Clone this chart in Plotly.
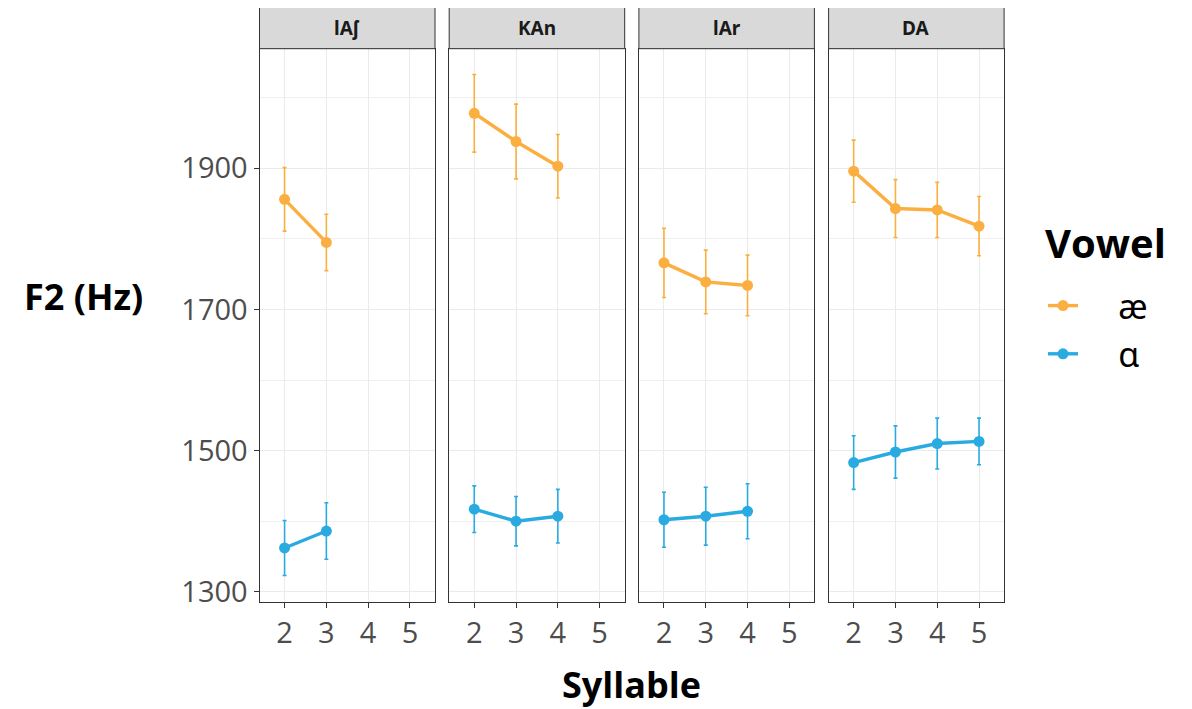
import plotly.graph_objects as go

# The page body adds an 8px margin, so the figure is drawn 8px smaller
# and all layout pixel positions are given in page coordinates minus 8.
OFF = 8
W, H = 1192 - OFF, 709 - OFF

panels = ["lAʃ", "KAn", "lAr", "DA"]
vowels = ["æ", "ɑ"]
colors = {"æ": "#FBAF41", "ɑ": "#29ABE2"}

syllables = {
    "lAʃ": [2, 3],
    "KAn": [2, 3, 4],
    "lAr": [2, 3, 4],
    "DA": [2, 3, 4, 5],
}

f2_ae = {
    "lAʃ": [1856, 1795],
    "KAn": [1978, 1938, 1903],
    "lAr": [1766, 1739, 1734],
    "DA": [1896, 1843, 1841, 1818],
}
err_ae = {
    "lAʃ": [45, 40],
    "KAn": [55, 53, 45],
    "lAr": [49, 45, 43],
    "DA": [44, 41, 39, 42],
}
f2_a = {
    "lAʃ": [1362, 1386],
    "KAn": [1417, 1400, 1407],
    "lAr": [1402, 1407, 1414],
    "DA": [1483, 1498, 1510, 1513],
}
err_a = {
    "lAʃ": [39, 40],
    "KAn": [33, 35, 38],
    "lAr": [39, 41, 39],
    "DA": [38, 37, 36, 33],
}

x_ticks = [2, 3, 4, 5]
y_ticks = [1300, 1500, 1700, 1900]

FONT = "Open Sans"
LFONT = "Noto Sans"

fig = go.Figure()

# pixel layout (page coordinates)
p_left0, p_w, p_step = 259.5, 175.5, 189.7
p_top, p_bot = 48.7, 602.3
strip_top = 6.7

def px_x(v):
    return (v - OFF) / W

def px_y(v):
    return (H - (v - OFF)) / H

for i, p in enumerate(panels):
    xa = "x" if i == 0 else f"x{i+1}"
    ya = "y" if i == 0 else f"y{i+1}"
    for v, vals, errs in (("æ", f2_ae, err_ae), ("ɑ", f2_a, err_a)):
        fig.add_trace(go.Scatter(
            x=syllables[p], y=vals[p],
            mode="lines+markers",
            name="    " + v,
            legendgroup=v,
            showlegend=(i == 0),
            line=dict(color=colors[v], width=3.4),
            marker=dict(color=colors[v], size=11),
            error_y=dict(type="data", array=errs[p], visible=True,
                         color=colors[v], thickness=1.6, width=2),
            xaxis=xa, yaxis=ya,
        ))

layout = dict(
    width=W, height=H,
    margin=dict(l=0, r=0, t=0, b=0, autoexpand=False),
    paper_bgcolor="white",
    plot_bgcolor="white",
    font=dict(family=FONT, color="#4D4D4D"),
    legend=dict(
        x=px_x(1043), y=px_y(277), xanchor="left", yanchor="top",
        font=dict(size=34, color="black", family=LFONT),
        bgcolor="rgba(0,0,0,0)",
        tracegroupgap=1,
    ),
    shapes=[],
    annotations=[],
)

for i, p in enumerate(panels):
    l = p_left0 + i * p_step
    r = l + p_w
    key = "" if i == 0 else str(i + 1)
    layout["xaxis" + key] = dict(
        domain=[px_x(l), px_x(r)],
        range=[1.4, 5.6],
        tickvals=x_ticks,
        ticktext=[str(t) for t in x_ticks],
        ticks="outside", ticklen=5, tickcolor="#333333", tickwidth=1,
        tickfont=dict(size=29, color="#4D4D4D", family=FONT),
        showgrid=True, gridcolor="#EBEBEB", gridwidth=1.4,
        showline=True, mirror=True, linecolor="#333333", linewidth=1,
        zeroline=False,
        anchor="y" + key if key else "y",
        fixedrange=True,
    )
    yd = dict(
        domain=[px_y(p_bot), px_y(p_top)],
        range=[1285, 2069.5],
        tickvals=y_ticks,
        showticklabels=(i == 0),
        ticks="outside" if i == 0 else "",
        ticklen=5, tickcolor="#333333", tickwidth=1,
        tickfont=dict(size=29, color="#4D4D4D", family=FONT),
        showgrid=True, gridcolor="#EBEBEB", gridwidth=1.4,
        minor=dict(tickvals=[1400, 1600, 1800, 2000], showgrid=True,
                   gridcolor="#F0F0F0", gridwidth=1, ticks=""),
        showline=True, mirror=True, linecolor="#333333", linewidth=1,
        zeroline=False,
        anchor="x" + key if key else "x",
        fixedrange=True,
    )
    if i > 0:
        yd["matches"] = "y"
    layout["yaxis" + key] = yd
    # strip
    layout["shapes"].append(dict(
        type="rect", xref="paper", yref="paper",
        x0=px_x(l), x1=px_x(r), y0=px_y(p_top), y1=px_y(strip_top),
        fillcolor="#D9D9D9", line=dict(color="#333333", width=1),
        layer="above",
    ))
    layout["annotations"].append(dict(
        x=px_x((l + r) / 2), y=px_y((strip_top + p_top) / 2),
        xref="paper", yref="paper", text="<b>" + p + "</b>", showarrow=False,
        font=dict(size=19, color="#1A1A1A", family=LFONT),
        xanchor="center", yanchor="middle",
    ))

layout["annotations"].append(dict(
    x=px_x(83), y=px_y(297), xref="paper", yref="paper",
    text="<b>F2 (Hz)</b>", showarrow=False,
    font=dict(size=36, color="black", family=FONT),
    xanchor="center", yanchor="middle",
))
layout["annotations"].append(dict(
    x=px_x(632), y=px_y(684), xref="paper", yref="paper",
    text="<b>Syllable</b>", showarrow=False,
    font=dict(size=36, color="black", family=FONT),
    xanchor="center", yanchor="middle",
))
layout["annotations"].append(dict(
    x=px_x(1043), y=px_y(242), xref="paper", yref="paper",
    text="<b>Vowel</b>", showarrow=False,
    font=dict(size=40, color="black", family=FONT),
    xanchor="left", yanchor="middle",
))

fig.update_layout(**layout)
fig.write_html("out.html")
